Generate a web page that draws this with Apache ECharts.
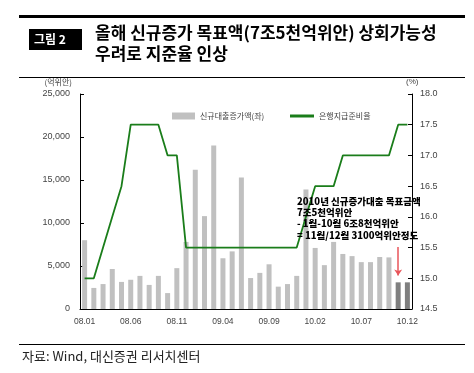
<!DOCTYPE html>
<html><head><meta charset="utf-8">
<script src="https://cdn.jsdelivr.net/npm/echarts@6/dist/echarts.min.js"></script>
<style>html,body{margin:0;padding:0;background:#fff}#c{width:474px;height:373px}</style>
</head><body><div id="c"></div>
<script>
const categories = ['08.01','08.02','08.03','08.04','08.05','08.06','08.07','08.08','08.09','08.10','08.11','08.12',
  '09.01','09.02','09.03','09.04','09.05','09.06','09.07','09.08','09.09','09.10','09.11','09.12',
  '10.01','10.02','10.03','10.04','10.05','10.06','10.07','10.08','10.09','10.10','10.11','10.12'];
const newLoans = [8000,2450,2900,4650,3150,3400,3850,2800,3850,1850,4750,7800,
  16200,10800,19000,5900,6700,15300,3600,4200,5200,2600,2900,3850,
  13900,7100,5100,7800,6400,6150,5450,5450,6050,6000,3100,3100];
const reserveRatio = [15.0,15.0,15.5,16.0,16.5,17.5,17.5,17.5,17.5,17.0,17.0,15.5,
  15.5,15.5,15.5,15.5,15.5,15.5,15.5,15.5,15.5,15.5,15.5,15.5,
  16.0,16.5,16.5,16.5,17.0,17.0,17.0,17.0,17.0,17.0,17.5,17.5];
const highlightCats = ['10.11','10.12'];
const seriesNames = ['신규대출증가액(좌)','은행지급준비율'];
const noteLines = ['2010년 신규증가대출 목표금액','7조5천억위안','- 1월-10월 6조8천억위안','= 11월/12월 3100억위안정도'];

const KR = '"Noto Sans CJK KR","Noto Sans",sans-serif';
const NUM = '"Liberation Sans",Arial,sans-serif';
const chart = echarts.init(document.getElementById('c'));
const barData = newLoans.map((v,i)=> highlightCats.includes(categories[i]) ? {value:v,itemStyle:{color:'#7f7f7f'}} : v);

chart.setOption({
  animation:false,
  grid:{left:80,right:62,top:94,bottom:64},
  legend:[
    {left:167,top:107,itemWidth:23,itemHeight:7,itemGap:5,data:[{name:seriesNames[0],icon:'rect'}],
     textStyle:{fontSize:8,color:'#444',fontFamily:KR}},
    {left:285,top:107,itemWidth:24,itemHeight:3,data:[{name:seriesNames[1],icon:'rect'}],
     textStyle:{fontSize:8,color:'#444',fontFamily:KR}}
  ],
  xAxis:{type:'category',data:categories,boundaryGap:true,
    axisLine:{lineStyle:{color:'#000',width:1}},
    axisTick:{inside:true,interval:4,alignWithLabel:true,length:4,lineStyle:{color:'#000'}},
    axisLabel:{interval:4,fontSize:8.5,color:'#444',fontFamily:NUM,margin:8}},
  yAxis:[
    {type:'value',min:0,max:25000,interval:5000,
     axisLine:{show:true,lineStyle:{color:'#000'}},
     axisTick:{show:true,inside:true,length:4,lineStyle:{color:'#000'}},
     splitLine:{show:false},
     axisLabel:{fontSize:9,color:'#444',fontFamily:NUM,margin:10,
       formatter:v=>v.toLocaleString('en-US')},
     name:'(억위안)',nameLocation:'end',nameGap:8,
     nameTextStyle:{fontSize:8,color:'#444',fontFamily:KR,align:'right',padding:[0,8,0,0]}},
    {type:'value',min:14.5,max:18,interval:0.5,position:'right',
     axisLine:{show:true,lineStyle:{color:'#000'}},
     axisTick:{show:true,inside:true,length:4,lineStyle:{color:'#000'}},
     splitLine:{show:false},
     axisLabel:{fontSize:9,color:'#444',fontFamily:NUM,margin:8,formatter:v=>v.toFixed(1)},
     name:'(%)',nameLocation:'end',nameGap:8,
     nameTextStyle:{fontSize:8,color:'#444',fontFamily:NUM,align:'left',padding:[0,0,0,-6]}}
  ],
  series:[
    {name:seriesNames[0],type:'bar',data:barData,barWidth:5,yAxisIndex:0,
     itemStyle:{color:'#c0c0c0'},
     markLine:{silent:true,symbol:['none','arrow'],symbolSize:6,
       lineStyle:{color:'#e8555a',width:1.5,type:'solid'},label:{show:false},
       data:[[{coord:['10.11',7200]},{coord:['10.11',3900]}]]}},
    {name:seriesNames[1],type:'line',data:reserveRatio,yAxisIndex:1,
     symbol:'none',lineStyle:{color:'#1a7d1a',width:1.8},itemStyle:{color:'#1a7d1a'},z:3}
  ],
  graphic:[
    {type:'rect',shape:{x:19,y:15,width:446,height:3},style:{fill:'#000'}},
    {type:'rect',shape:{x:29,y:29,width:53,height:21},style:{fill:'#000'}},
    {type:'text',x:34,y:39,style:{text:'그림 2',fill:'#fff',font:'bold 12px '+KR,verticalAlign:'middle'}},
    {type:'text',x:95,y:33,style:{text:'올해 신규증가 목표액(7조5천억위안) 상회가능성',fill:'#000',font:'bold 17px '+KR,verticalAlign:'middle'}},
    {type:'text',x:95,y:54,style:{text:'우려로 지준율 인상',fill:'#000',font:'bold 17px '+KR,verticalAlign:'middle'}},
    {type:'rect',shape:{x:19,y:77,width:446,height:1},style:{fill:'#000'}},
    {type:'rect',shape:{x:19,y:344,width:446,height:1},style:{fill:'#000'}},
    {type:'text',x:22,y:356,style:{text:'자료: Wind, 대신증권 리서치센터',fill:'#222',font:'13px '+KR,verticalAlign:'middle'}},
    ...noteLines.map((t,i)=>({type:'text',x:297,y:201+i*11.3,z:10,
      style:{text:t,fill:'#000',font:'900 9.5px '+KR,verticalAlign:'middle'}}))
  ]
});
</script></body></html>
